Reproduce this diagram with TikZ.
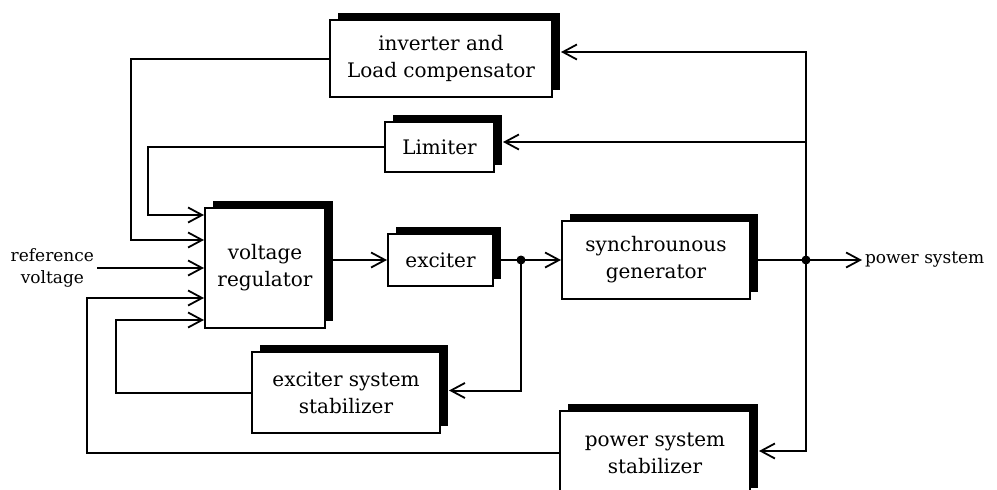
\documentclass[tikz,border=0pt]{standalone}
\usepackage{fontspec}
\setmainfont{DejaVu Serif}
\usepackage{xcolor}
\usetikzlibrary{shadows,positioning,arrows.meta}

\begin{document}
\begin{tikzpicture}[x=1pt, y=-1pt, line width=2pt, block/.style={
					rectangle, draw = black, fill = white, line width = 2pt, align = center,
					inner sep = 0pt, font = \fontsize{20}{27}\selectfont,
					drop shadow = {shadow xshift=8pt, shadow yshift=7pt, fill=black, opacity=1}},
				textlabel/.style={align = center, inner sep = 2pt, font = \fontsize{17}{22}\selectfont},
				arr/.style={-{Straight Barb[length=14pt, width=15pt, line width=1.8pt]}}]
		\path[use as bounding box, clip] (0,0) rectangle (997,490);
		\node (inv) [block, minimum width=222pt, minimum height=77pt] at (441,58.5) {inverter and\\Load compensator};
		\node (lim) [block, minimum width=109pt, minimum height=50pt] at (439.5,147) {Limiter};
		\node (vr) [block, minimum width=120pt, minimum height=120pt] at (265,268) {voltage\\regulator};
		\node (exc) [block, minimum width=105pt, minimum height=52pt] at (440.5,260) {exciter};
		\node (gen) [block, minimum width=188pt, minimum height=78pt] at (656,260) {synchrounous\\generator};
		\node (ess) [block, minimum width=188pt, minimum height=81pt] at (346,392.5) {exciter system\\stabilizer};
		\node (pss) [block, minimum width=190pt, minimum height=84pt] at (655,453) {power system\\stabilizer};
		\node (ref) [textlabel, anchor=east] at (97,268) {reference\\voltage};
		\node (ps) [textlabel, anchor=west] at (862,260) {power system};
		\coordinate (j1) at (521,260);
		\coordinate (j2) at (806,260);
		\draw[arr] (inv.west) -- ++(-198,0) |- ([yshift=28pt]vr.west);
		\draw[arr] (lim.west) -- ++(-236,0) |- ([yshift=53pt]vr.west);
		\draw[arr] (ref.east) -- (ref.east -| vr.west);
		\draw[arr] (pss.west) -- ++(-472,0) |- ([yshift=-30pt]vr.west);
		\draw[arr] (ess.west) -- ++(-135,0) |- ([yshift=-52pt]vr.west);
		\draw[arr] (vr.east |- exc.west) -- (exc.west);
		\draw (exc.east) -- (j1);
		\draw[arr] (j1) -- (gen.west);
		\draw[arr] (j1) |- ([xshift=8pt,yshift=2pt]ess.east);
		\draw (gen.east) -- (j2);
		\draw[arr] (j2) -- (ps.west);
		\draw[arr] (j2) |- ([xshift=8pt,yshift=6.5pt]inv.east);
		\draw[arr] (j2) |- ([xshift=8pt,yshift=5pt]lim.east);
		\draw[arr] (j2) |- ([xshift=8pt,yshift=2pt]pss.east);
		\fill (j1) circle (4.5pt);
		\fill (j2) circle (4.5pt);
	\end{tikzpicture}
\end{document}
